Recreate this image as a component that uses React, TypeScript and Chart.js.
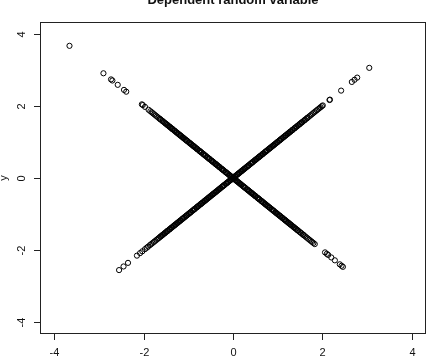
import React, { useEffect, useRef } from "react";
import { Chart, registerables } from "chart.js";

Chart.register(...registerables);

const TITLE = "Dependent random variable";
const Y_LABEL = "y";
const X_TICKS = [-4, -2, 0, 2, 4];
const Y_TICKS = [-4, -2, 0, 2, 4];

// x values of points lying on the rising diagonal (y = x)
const risingX = [
  -2.55, -2.45, -2.35, -2.15, -2.08, -2.03, -1.97, -1.93, -1.9, -1.86, -1.83, -1.8, -1.77, -1.74, -1.71,
  -1.68, -1.66, -1.63, -1.6, -1.58, -1.55, -1.53, -1.5, -1.48, -1.46, -1.43, -1.41, -1.38, -1.36, -1.33,
  -1.31, -1.29, -1.26, -1.24, -1.21, -1.19, -1.17, -1.14, -1.12, -1.1, -1.07, -1.05, -1.03, -1.01, -0.98,
  -0.96, -0.94, -0.91, -0.89, -0.87, -0.85, -0.82, -0.8, -0.78, -0.75, -0.73, -0.71, -0.69, -0.66, -0.64,
  -0.62, -0.6, -0.57, -0.55, -0.53, -0.51, -0.48, -0.46, -0.44, -0.41, -0.39, -0.37, -0.35, -0.32, -0.3,
  -0.28, -0.25, -0.23, -0.21, -0.19, -0.16, -0.14, -0.12, -0.09, -0.07, -0.05, -0.03, 0.0, 0.02, 0.04,
  0.07, 0.09, 0.11, 0.13, 0.16, 0.18, 0.2, 0.23, 0.25, 0.27, 0.29, 0.32, 0.34, 0.36, 0.39, 0.41, 0.43,
  0.45, 0.48, 0.5, 0.52, 0.55, 0.57, 0.59, 0.61, 0.64, 0.66, 0.68, 0.71, 0.73, 0.75, 0.77, 0.8, 0.82,
  0.84, 0.87, 0.89, 0.91, 0.93, 0.96, 0.98, 1.0, 1.03, 1.05, 1.07, 1.1, 1.12, 1.15, 1.17, 1.19, 1.22,
  1.24, 1.27, 1.29, 1.32, 1.34, 1.37, 1.39, 1.42, 1.45, 1.47, 1.5, 1.53, 1.55, 1.58, 1.61, 1.64, 1.67,
  1.7, 1.73, 1.76, 1.79, 1.82, 1.85, 1.88, 1.91, 1.94, 1.96, 1.99, 2.01, 2.16, 2.17, 2.42, 2.66, 2.72,
  2.78, 3.05,
];

// further overlapping observations in the dense part of the rising diagonal
const risingXDense = [
  -1.62, -1.57, -1.52, -1.47, -1.42, -1.37, -1.32, -1.28, -1.23, -1.18, -1.13, -1.09, -1.04, -0.99,
  -0.95, -0.9, -0.86, -0.81, -0.77, -0.72, -0.68, -0.63, -0.59, -0.54, -0.5, -0.45, -0.42, -0.38,
  -0.33, -0.29, -0.24, -0.2, -0.15, -0.11, -0.06, -0.02, 0.01, 0.05, 0.1, 0.14, 0.19, 0.22, 0.26,
  0.31, 0.35, 0.4, 0.44, 0.49, 0.53, 0.58, 0.62, 0.67, 0.72, 0.76, 0.81, 0.85, 0.9, 0.94, 0.99, 1.04,
  1.08, 1.13, 1.18, 1.23, 1.28, 1.33, 1.38, 1.43, 1.49, 1.54, 1.6, 1.66,
];

// x values of points lying on the falling diagonal (y = -x)
const fallingX = [
  -3.66, -2.9, -2.73, -2.7, -2.58, -2.44, -2.39, -2.04, -2.02, -1.97, -1.89, -1.85, -1.82, -1.79, -1.76,
  -1.73, -1.7, -1.67, -1.64, -1.61, -1.58, -1.55, -1.52, -1.49, -1.47, -1.44, -1.42, -1.39, -1.37, -1.35,
  -1.32, -1.3, -1.27, -1.25, -1.23, -1.2, -1.18, -1.16, -1.13, -1.11, -1.09, -1.06, -1.04, -1.02, -0.99,
  -0.97, -0.95, -0.92, -0.9, -0.88, -0.86, -0.83, -0.81, -0.79, -0.76, -0.74, -0.72, -0.7, -0.67, -0.65,
  -0.63, -0.61, -0.58, -0.56, -0.54, -0.52, -0.49, -0.47, -0.45, -0.42, -0.4, -0.38, -0.36, -0.33, -0.31,
  -0.29, -0.26, -0.24, -0.22, -0.2, -0.17, -0.15, -0.13, -0.1, -0.08, -0.06, -0.04, -0.01, 0.01, 0.03,
  0.06, 0.08, 0.1, 0.12, 0.15, 0.17, 0.19, 0.22, 0.24, 0.26, 0.28, 0.31, 0.33, 0.35, 0.38, 0.4, 0.42,
  0.44, 0.47, 0.49, 0.51, 0.54, 0.56, 0.58, 0.6, 0.63, 0.65, 0.67, 0.7, 0.72, 0.74, 0.76, 0.79, 0.81,
  0.83, 0.86, 0.88, 0.9, 0.92, 0.95, 0.97, 0.99, 1.02, 1.04, 1.06, 1.09, 1.11, 1.14, 1.16, 1.18, 1.21,
  1.23, 1.26, 1.28, 1.31, 1.33, 1.36, 1.38, 1.41, 1.44, 1.46, 1.49, 1.53, 1.56, 1.59, 1.62, 1.65, 1.68,
  1.71, 1.74, 1.77, 1.8, 1.83, 2.06, 2.1, 2.13, 2.2, 2.28, 2.39, 2.43, 2.46,
];

// further overlapping observations in the dense part of the falling diagonal
const fallingXDense = [
  -1.63, -1.57, -1.51, -1.46, -1.41, -1.36, -1.31, -1.26, -1.21, -1.17, -1.12, -1.07, -1.03, -0.98,
  -0.94, -0.89, -0.85, -0.8, -0.75, -0.71, -0.66, -0.62, -0.57, -0.53, -0.48, -0.44, -0.39, -0.35,
  -0.3, -0.25, -0.21, -0.16, -0.12, -0.07, -0.03, 0.02, 0.05, 0.09, 0.14, 0.18, 0.23, 0.27, 0.32,
  0.36, 0.41, 0.45, 0.5, 0.55, 0.59, 0.64, 0.68, 0.73, 0.77, 0.82, 0.87, 0.91, 0.96, 1.0, 1.05, 1.1,
  1.15, 1.19, 1.24, 1.29, 1.35, 1.4, 1.45, 1.51, 1.57,
];

const FONT = "'Liberation Sans', Arial, Helvetica, sans-serif";

const rPlotPlugin = {
  id: "rPlot",
  afterDraw(chart: any) {
    const { ctx, chartArea } = chart;
    const xs = chart.scales.x;
    const ys = chart.scales.y;
    const { left, right, top, bottom } = chartArea;
    ctx.save();
    ctx.strokeStyle = "#222";
    ctx.lineWidth = 1;
    ctx.strokeRect(Math.round(left) + 0.5, Math.round(top) + 0.5, Math.round(right - left) - 1, Math.round(bottom - top) - 1);

    ctx.fillStyle = "#111";
    ctx.font = `11px ${FONT}`;
    ctx.textAlign = "center";
    ctx.textBaseline = "middle";
    for (const v of X_TICKS) {
      const px = Math.round(xs.getPixelForValue(v)) + 0.5;
      ctx.beginPath();
      ctx.moveTo(px, bottom);
      ctx.lineTo(px, bottom + 6);
      ctx.stroke();
      ctx.fillText(String(v), px, bottom + 19);
    }
    for (const v of Y_TICKS) {
      const py = Math.round(ys.getPixelForValue(v)) + 0.5;
      ctx.beginPath();
      ctx.moveTo(left - 6, py);
      ctx.lineTo(left, py);
      ctx.stroke();
      ctx.save();
      ctx.translate(left - 18, py);
      ctx.rotate(-Math.PI / 2);
      ctx.fillText(String(v), 0, 0);
      ctx.restore();
    }
    // y axis label
    ctx.save();
    ctx.translate(4, (top + bottom) / 2);
    ctx.rotate(-Math.PI / 2);
    ctx.fillText(Y_LABEL, 0, 0);
    ctx.restore();
    // title
    ctx.font = `bold 13px ${FONT}`;
    ctx.textBaseline = "alphabetic";
    ctx.fillText(TITLE, (left + right) / 2, 4);
    ctx.restore();
  },
};

export default function App() {
  const ref = useRef<HTMLCanvasElement | null>(null);
  useEffect(() => {
    if (!ref.current) return;
    const pointStyle = {
      pointStyle: "circle" as const,
      pointRadius: 2.6,
      pointHoverRadius: 2.6,
      borderWidth: 1,
      borderColor: "#000",
      backgroundColor: "rgba(0,0,0,0)",
      showLine: false,
    };
    const rising = [...risingX, ...risingXDense].map((v) => ({ x: v, y: v }));
    const falling = [...fallingX, ...fallingXDense].map((v) => ({ x: v, y: -v }));
    const chart = new Chart(ref.current, {
      type: "scatter",
      data: {
        datasets: [
          { label: "rising", data: rising, ...pointStyle },
          { label: "falling", data: falling, ...pointStyle },
        ],
      },
      options: {
        responsive: false,
        animation: false,
        devicePixelRatio: 1,
        layout: { padding: { left: 40, right: 4, top: 22, bottom: 25 } },
        plugins: { legend: { display: false }, tooltip: { enabled: false }, title: { display: false } },
        scales: {
          x: { type: "linear", min: -4.32, max: 4.32, display: false },
          y: { type: "linear", min: -4.32, max: 4.32, display: false },
        },
      },
      plugins: [rPlotPlugin],
    });
    return () => chart.destroy();
  }, []);
  return (
    <canvas
      ref={ref}
      width={430}
      height={359}
      style={{ position: "fixed", left: 0, top: 0, width: 430, height: 359, background: "#fff" }}
    />
  );
}
